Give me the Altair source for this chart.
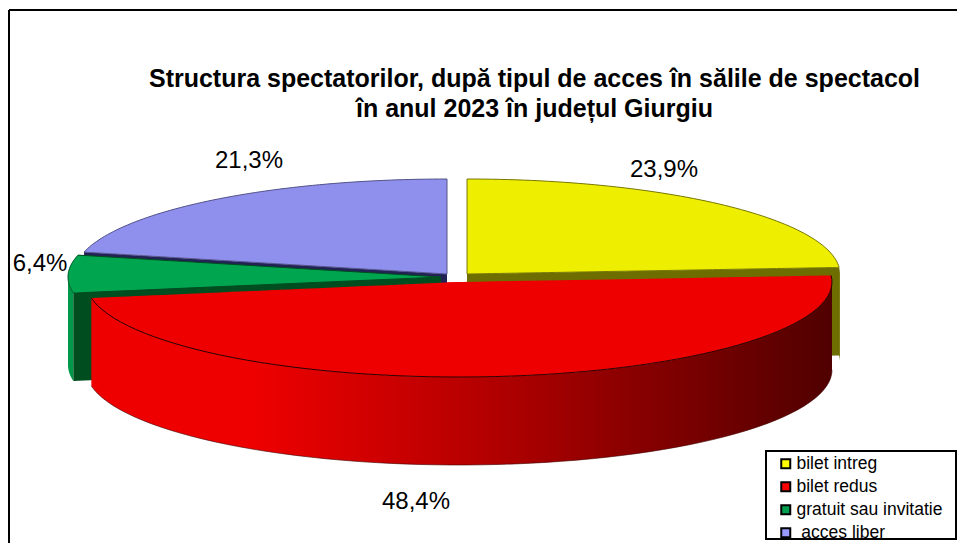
import numpy as np
import pandas as pd
import altair as alt

# ---- chart content -------------------------------------------------------
categories = ["bilet intreg", "bilet redus", "gratuit sau invitatie", "\u200b\u00a0acces liber"]
shares = [23.9, 48.4, 6.4, 21.3]
share_labels = ["23,9%", "48,4%", "6,4%", "21,3%"]
title_lines = ["Structura spectatorilor, după tipul de acces în sălile de spectacol",
               "în anul 2023 în județul Giurgiu"]

# ---- colours -------------------------------------------------------------
legend_colors = ["#ffff00", "#ff0000", "#00a050", "#9999ff"]
top_colors = ["#eeee00", "#ee0000", "#00a64f", "#8f8fee"]
edge_colors = ["#77770a", "#ee0000", "#004d20", "#55558a"]

# ---- layout: every exploded slice has its own centre on the page -----------
centers = [(467, 274), (459, 282), (441, 277), (447, 274)]
RX, RY, DEPTH = 373, 95, 88
label_x = [664, 416, 40, 249]
label_y = [170, 502, 264, 161]
W, H = 949, 535
FONT = "Liberation Sans"

x_scale = alt.Scale(domain=[8, 8 + W], range=[0, W], nice=False, zero=False)
y_scale = alt.Scale(domain=[8, 8 + H], range=[0, H], nice=False, zero=False)
X = alt.X("x:Q", scale=x_scale, axis=None)
Y = alt.Y("y:Q", scale=y_scale, axis=None)
Y2 = alt.Y2("y2:Q")

edges = np.cumsum([0] + shares) / 100 * 2 * np.pi


def rim(i, a0=None, a1=None, n=70):
    cx, cy = centers[i]
    a0 = edges[i] if a0 is None else a0
    a1 = edges[i + 1] if a1 is None else a1
    a = np.linspace(a0, a1, n)
    return cx + RX * np.sin(a), cy - RY * np.cos(a)


def wedge(i):
    """Top face as an area: upper and lower boundary of the slice at each x."""
    px, py = rim(i)
    cx, cy = centers[i]
    vx = np.r_[cx, px, cx]
    vy = np.r_[cy, py, cy]
    rows = []
    for x in np.unique(np.round(vx, 2)):
        ys = []
        for j in range(len(vx) - 1):
            x0, x1, y0, y1 = vx[j], vx[j + 1], vy[j], vy[j + 1]
            if min(x0, x1) - 0.006 <= x <= max(x0, x1) + 0.006:
                if abs(x1 - x0) < 1e-6:
                    ys += [y0, y1]
                else:
                    ys.append(y0 + (y1 - y0) * (x - x0) / (x1 - x0))
        rows.append({"x": x, "y": min(ys), "y2": max(ys), "cat": categories[i]})
    return pd.DataFrame(rows)


def rim_side(i, a0, a1):
    px, py = rim(i, a0, a1)
    return pd.DataFrame({"x": px, "y": py, "y2": py + DEPTH})


def cut_side(i, angle):
    """Inner face going from the slice apex to the rim at the given angle."""
    cx, cy = centers[i]
    ex = cx + RX * np.sin(angle)
    ey = cy - RY * np.cos(angle)
    return pd.DataFrame({"x": [cx, ex], "y": [cy, ey], "y2": [cy + DEPTH, ey + DEPTH]})


def area(df, fill, stroke=None, sw=1):
    kw = {"stroke": stroke, "strokeWidth": sw} if stroke else {}
    return alt.Chart(df).mark_area(fill=fill, interpolate="linear", clip=False, **kw).encode(x=X, y=Y, y2=Y2)


def top(i):
    return area(wedge(i), top_colors[i], edge_colors[i], 1)


# swatch colours for the legend come from this layer, which lies under the faces
legend_layer = alt.Chart(pd.concat([wedge(i) for i in range(4)])).mark_area(interpolate="linear").encode(
    x=X, y=Y, y2=Y2,
    fill=alt.Fill(
        "cat:N",
        scale=alt.Scale(domain=categories, range=legend_colors),
        sort=categories,
        legend=alt.Legend(
            orient="none", legendX=778 - 8 - 1, legendY=455 - 8, title=None, padding=0,
            symbolType="square", symbolSize=81, symbolStrokeColor="black", symbolStrokeWidth=2,
            symbolOpacity=1, labelFont=FONT, labelFontSize=17.5, labelColor="black",
            labelLimit=220, labelOffset=2, rowPadding=4,
        ),
    ),
)

red_gradient = alt.LinearGradient(
    gradient="linear", x1=0, x2=1, y1=0, y2=0,
    stops=[
        alt.GradientStop(color="#ee0000", offset=0),
        alt.GradientStop(color="#ee0000", offset=0.22),
        alt.GradientStop(color="#b00000", offset=0.55),
        alt.GradientStop(color="#500000", offset=1),
    ],
)

red_front_edge = pd.DataFrame(dict(zip(["x", "y"], rim(1))))
red_side = rim_side(1, np.pi / 2, edges[2])
red_bottom_edge = pd.DataFrame({"x": red_side["x"], "y": red_side["y2"]})

layers = [
    legend_layer,
    area(cut_side(3, edges[3]), "#222255"),
    top(3),
    area(cut_side(0, edges[1]), "#6e6e00"),
    area(rim_side(0, edges[1], np.pi / 2), "#6e6e00"),
    top(0),
    area(rim_side(2, edges[2], 1.5 * np.pi), "#00994a"),
    area(cut_side(2, edges[2]), "#004d20"),
    top(2),
    area(red_side, red_gradient),
    area(wedge(1), top_colors[1]),
    alt.Chart(red_front_edge).mark_line(color="#300000", strokeWidth=1, interpolate="linear", order=False).encode(x=X, y=Y),
    alt.Chart(red_bottom_edge).mark_line(color="#400000", strokeWidth=1, opacity=0.6, interpolate="linear", order=False).encode(x=X, y=Y),
]

# percentages
labels_df = pd.DataFrame({"x": label_x, "y": label_y, "t": share_labels})
layers.append(
    alt.Chart(labels_df).mark_text(font=FONT, fontSize=24, color="black", baseline="middle", align="center")
    .encode(x=X, y=Y, text="t:N")
)

# chart frame (open on the right and at the bottom) and legend box
frame_x = [9, 9]
frame_x2 = [9, 957]
frame_y = [10, 10]
frame_y2 = [543, 10]
frame = pd.DataFrame({"x": frame_x, "x2": frame_x2, "y": frame_y, "y2": frame_y2})
layers.append(
    alt.Chart(frame).mark_rule(color="black", strokeWidth=2, clip=False)
    .encode(x=X, x2="x2:Q", y=Y, y2=Y2)
)
box = pd.DataFrame({"x": [766], "x2": [956], "y": [451], "y2": [539]})
layers.append(
    alt.Chart(box).mark_rect(fill="transparent", stroke="black", strokeWidth=2)
    .encode(x=X, x2="x2:Q", y=Y, y2=Y2)
)

chart = (
    alt.layer(*layers)
    .properties(
        width=W, height=H,
        autosize=alt.AutoSizeParams(type="none"),
        padding=0,
        background="white",
        title=alt.TitleParams(
            text=title_lines, font=FONT, fontSize=25, fontWeight="bold", color="black",
            anchor="middle", lineHeight=30, dx=52, dy=114, offset=0,
        ),
    )
    .configure_view(stroke=None)
)

chart.save("out.html", embed_options={"renderer": "svg", "actions": False})
